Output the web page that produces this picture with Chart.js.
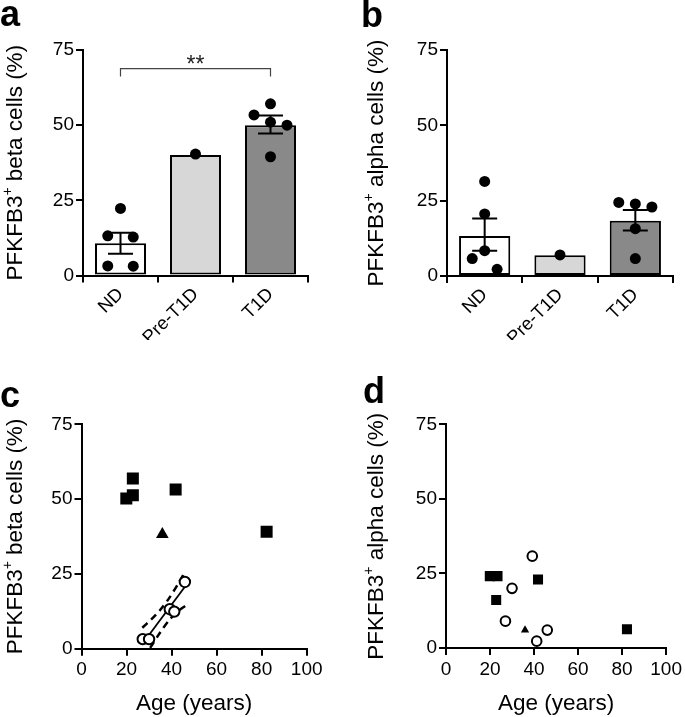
<!DOCTYPE html>
<html><head><meta charset="utf-8">
<script src="https://cdn.jsdelivr.net/npm/chart.js@4/dist/chart.umd.min.js"></script>
<style>
html,body{margin:0;padding:0;background:#fff;}
body{width:685px;height:717px;position:relative;overflow:hidden;}
canvas{position:absolute;}
</style></head><body>
<canvas id="ca" width="342" height="340" style="left:0;top:0"></canvas>
<canvas id="cb" width="343" height="340" style="left:342px;top:0"></canvas>
<canvas id="cc" width="342" height="377" style="left:0;top:340px"></canvas>
<canvas id="cd" width="343" height="377" style="left:342px;top:340px"></canvas>
<script>
// ---------- data ----------
const groups = ['ND', 'Pre-T1D', 'T1D'];
const groupPos = [0, 1, 2];
const yTicks = [0, 25, 50, 75];
const ageTicks = [0, 20, 40, 60, 80, 100];

// panel a: beta cells
const betaMean = [10.7, 40.1, 50.0];
const betaSemLow = [7.2, null, 47.2];
const betaSemHigh = [14.2, null, 53.2];
const betaDotPos = [0, -0.17, 0.17, -0.17, 0.17, 1, 2, 1.78, 2, 2.22, 2];
const betaDotVal = [22.3, 13.2, 12.8, 3.2, 3.1, 40.4, 57.1, 53.4, 51.0, 50.0, 39.5];
const sigText = '**';
const sigFrom = 0, sigTo = 2, sigLevel = 68.8, sigDrop = 66.2, sigTextLevel = 67.6;

// panel b: alpha cells
const alphaMean = [13.3, 6.9, 18.3];
const alphaSemLow = [8.4, null, 15.1];
const alphaSemHigh = [19.1, null, 21.9];
const alphaDotPos = [0, 0, 0, -0.165, 0.165, 1, 1.78, 2, 2.22, 2, 2];
const alphaDotVal = [31.4, 20.6, 8.4, 5.8, 2.2, 7.0, 24.4, 23.9, 22.9, 15.7, 5.8];

// panel c: beta vs age
const ageT1Dc = [19.9, 22.8, 22.8, 41.8, 82.2];
const betaT1D = [50.2, 51.3, 56.9, 53.2, 39.1];
const agePreC = [35.9];
const betaPre = [38.2];
const ageNDc = [27.2, 30.0, 39.2, 41.2, 45.9];
const betaND = [3.2, 3.2, 13.2, 12.4, 22.3];
const fitAge = [27, 46];
const fitBeta = [1.6, 20.8];
const ciUpAge = [27, 31, 35, 39, 43, 46];
const ciUpBeta = [7.0, 9.8, 13.0, 17.0, 21.8, 25.8];
const ciLoAge = [30.5, 35, 39, 43, 46];
const ciLoBeta = [0.3, 5.5, 9.6, 12.6, 14.3];

// panel d: alpha vs age
const ageT1Dd = [19.9, 23.4, 22.8, 41.8, 82.2];
const alphaT1D = [24.1, 24.1, 16.1, 23.0, 6.3];
const agePreD = [35.9];
const alphaPre = [6.0];
const ageNDd = [39.2, 30.0, 27.0, 41.2, 46.0];
const alphaND = [30.8, 20.0, 9.0, 2.3, 6.0];

// ---------- helpers ----------
const FONT = '"Liberation Sans", Arial, Helvetica, sans-serif';
const TICK_FONT = {family: FONT, size: 19};
const CAT_FONT = {family: FONT, size: 18.5};
const TITLE_SIZE = 22.5;
const zip = (xs, ys) => xs.map((x, i) => ({x, y: ys[i]}));

function axisStyle(extra) {
  return Object.assign({
    grid: {display: true, drawOnChartArea: false, drawTicks: true, tickLength: 7, color: '#000', lineWidth: 2},
    border: {display: true, color: '#000', width: 2},
  }, extra);
}

function decorPlugin(cfg) {
  return {
    id: 'decor',
    afterDraw(chart) {
      const ctx = chart.ctx, a = chart.chartArea;
      ctx.save();
      ctx.fillStyle = '#000';
      ctx.font = 'bold 36px ' + FONT;
      ctx.textBaseline = 'alphabetic';
      ctx.textAlign = 'left';
      ctx.fillText(cfg.letter, cfg.letterX, cfg.letterY);
      const big = TITLE_SIZE + 'px ' + FONT, small = Math.round(TITLE_SIZE * 0.62) + 'px ' + FONT;
      ctx.font = big; const w1 = ctx.measureText(cfg.y1).width, w2 = ctx.measureText(cfg.y2).width;
      ctx.font = small; const ws = ctx.measureText('+').width;
      const total = w1 + ws + w2;
      ctx.save();
      ctx.translate(cfg.yTitleX, (a.top + a.bottom) / 2);
      ctx.rotate(-Math.PI / 2);
      let x = -total / 2;
      ctx.font = big; ctx.fillText(cfg.y1, x, 0); x += w1;
      ctx.font = small; ctx.fillText('+', x, -TITLE_SIZE * 0.45); x += ws;
      ctx.font = big; ctx.fillText(cfg.y2, x, 0);
      ctx.restore();
      if (cfg.xTitle) {
        ctx.font = big; ctx.textAlign = 'center';
        ctx.fillText(cfg.xTitle, (a.left + a.right) / 2, cfg.xTitleY);
      }
      ctx.restore();
    }
  };
}

function errorBarPlugin(lo, hi) {
  return {
    id: 'errbars',
    afterDatasetDraw(chart, args) {
      if (args.index !== 0) return;
      const ctx = chart.ctx, xs = chart.scales.x, ys = chart.scales.y;
      ctx.save();
      ctx.strokeStyle = '#000'; ctx.lineWidth = 2;
      lo.forEach((l, i) => {
        if (l == null) return;
        const x = xs.getPixelForValue(groupPos[i]), y1 = ys.getPixelForValue(l), y2 = ys.getPixelForValue(hi[i]);
        ctx.beginPath();
        ctx.moveTo(x, y1); ctx.lineTo(x, y2);
        ctx.moveTo(x - 12.5, y1); ctx.lineTo(x + 12.5, y1);
        ctx.moveTo(x - 12.5, y2); ctx.lineTo(x + 12.5, y2);
        ctx.stroke();
      });
      ctx.restore();
    }
  };
}

const bracketPlugin = {
  id: 'bracket',
  afterDraw(chart) {
    const ctx = chart.ctx, xs = chart.scales.x, ys = chart.scales.y;
    const x1 = xs.getPixelForValue(sigFrom), x2 = xs.getPixelForValue(sigTo);
    const y = ys.getPixelForValue(sigLevel), yd = ys.getPixelForValue(sigDrop);
    ctx.save();
    ctx.strokeStyle = '#444'; ctx.lineWidth = 1.2;
    ctx.beginPath();
    ctx.moveTo(x1, yd); ctx.lineTo(x1, y); ctx.lineTo(x2, y); ctx.lineTo(x2, yd);
    ctx.stroke();
    ctx.fillStyle = '#222'; ctx.font = '23px ' + FONT; ctx.textAlign = 'center'; ctx.textBaseline = 'alphabetic';
    ctx.fillText(sigText, (x1 + x2) / 2, ys.getPixelForValue(sigTextLevel));
    ctx.restore();
  }
};

function barChart(id, mean, lo, hi, dotPos, dotVal, pad, yW, xH, decor, extraPlugins) {
  return new Chart(document.getElementById(id), {
    type: 'bar',
    data: {
      datasets: [
        {type: 'bar', data: zip(groupPos, mean), order: 2, grouped: false,
         backgroundColor: ['#ffffff', '#d7d7d7', '#898989'],
         borderColor: '#000', borderWidth: 2, borderSkipped: false, barPercentage: 0.68, categoryPercentage: 1},
        {type: 'scatter', data: zip(dotPos, dotVal), order: 1,
         pointRadius: 5.5, pointBackgroundColor: '#000', pointBorderWidth: 0, showLine: false}
      ]
    },
    options: {
      responsive: false, animation: false, events: [],
      layout: {padding: pad},
      plugins: {legend: {display: false}, tooltip: {enabled: false}},
      scales: {
        x: axisStyle({type: 'linear', min: -0.5, max: 2.5, offset: false,
          afterBuildTicks: s => { s.ticks = groupPos.map(v => ({value: v})); },
          ticks: {color: '#000', font: CAT_FONT, maxRotation: 45, minRotation: 45, autoSkip: false, padding: 1,
                  callback: v => groups[groupPos.indexOf(v)]},
          afterFit: s => { s.height = xH; }}),
        y: axisStyle({type: 'linear', min: 0, max: 75,
          afterBuildTicks: s => { s.ticks = yTicks.map(v => ({value: v})); },
          ticks: {color: '#000', font: TICK_FONT, padding: 2},
          afterFit: s => { s.width = yW; }})
      }
    },
    plugins: [errorBarPlugin(lo, hi), decorPlugin(decor)].concat(extraPlugins || [])
  });
}

function scatterChart(id, sets, pad, yW, xH, decor) {
  return new Chart(document.getElementById(id), {
    type: 'scatter',
    data: {datasets: sets},
    options: {
      responsive: false, animation: false, events: [],
      layout: {padding: pad},
      plugins: {legend: {display: false}, tooltip: {enabled: false}},
      scales: {
        x: axisStyle({type: 'linear', min: 0, max: 100,
          afterBuildTicks: s => { s.ticks = ageTicks.map(v => ({value: v})); },
          ticks: {color: '#000', font: TICK_FONT, padding: 3, maxRotation: 0},
          afterFit: s => { s.height = xH; }}),
        y: axisStyle({type: 'linear', min: 0, max: 75,
          afterBuildTicks: s => { s.ticks = yTicks.map(v => ({value: v})); },
          ticks: {color: '#000', font: TICK_FONT, padding: 2},
          afterFit: s => { s.width = yW; }})
      }
    },
    plugins: [decorPlugin(decor)]
  });
}

// panel a
barChart('ca', betaMean, betaSemLow, betaSemHigh, betaDotPos, betaDotVal,
  {left: 0, right: 34, top: 50, bottom: 0}, 83, 64.5,
  {letter: 'a', letterX: 0, letterY: 26, y1: 'PFKFB3', y2: ' beta cells (%)', yTitleX: 22},
  [bracketPlugin]);

// panel b
barChart('cb', alphaMean, alphaSemLow, alphaSemHigh, alphaDotPos, alphaDotVal,
  {left: 0, right: 12, top: 50, bottom: 0}, 105, 64,
  {letter: 'b', letterX: 19, letterY: 27, y1: 'PFKFB3', y2: ' alpha cells (%)', yTitleX: 41});

// panel c
scatterChart('cc', [
  {data: zip(fitAge, fitBeta), showLine: true, borderColor: '#000', borderWidth: 1.8, pointRadius: 0, order: 6},
  {data: zip(ciUpAge, ciUpBeta), showLine: true, borderColor: '#000', borderWidth: 2.5, borderDash: [7, 5], pointRadius: 0, tension: 0.3, order: 5},
  {data: zip(ciLoAge, ciLoBeta), showLine: true, borderColor: '#000', borderWidth: 2.5, borderDash: [7, 5], pointRadius: 0, tension: 0.3, order: 5},
  {data: zip(ageNDc, betaND), pointStyle: 'circle', pointRadius: 5.2, pointBorderWidth: 2, pointBorderColor: '#000', pointBackgroundColor: '#fff', order: 3},
  {data: zip(ageT1Dc, betaT1D), pointStyle: 'rect', pointRadius: 8.5, pointBorderWidth: 0, pointBackgroundColor: '#000', order: 2},
  {data: zip(agePreC, betaPre), pointStyle: 'triangle', pointRadius: 7.3, pointBorderWidth: 0, pointBackgroundColor: '#000', order: 1}
], {left: 0, right: 35.3, top: 84.3, bottom: 0}, 81.5, 68.3,
  {letter: 'c', letterX: 0, letterY: 67, y1: 'PFKFB3', y2: ' beta cells (%)', yTitleX: 22, xTitle: 'Age (years)', xTitleY: 370});

// panel d
scatterChart('cd', [
  {data: zip(ageNDd, alphaND), pointStyle: 'circle', pointRadius: 4.8, pointBorderWidth: 2, pointBorderColor: '#000', pointBackgroundColor: '#fff', order: 3},
  {data: zip(ageT1Dd, alphaT1D), pointStyle: 'rect', pointRadius: 7.1, pointBorderWidth: 0, pointBackgroundColor: '#000', order: 2},
  {data: zip(agePreD, alphaPre), pointStyle: 'triangle', pointRadius: 4.8, pointBorderWidth: 0, pointBackgroundColor: '#000', order: 1}
], {left: 0, right: 14.3, top: 84.3, bottom: 0}, 104, 69,
  {letter: 'd', letterX: 21, letterY: 63, y1: 'PFKFB3', y2: ' alpha cells (%)', yTitleX: 41, xTitle: 'Age (years)', xTitleY: 370});
</script>
</body></html>
